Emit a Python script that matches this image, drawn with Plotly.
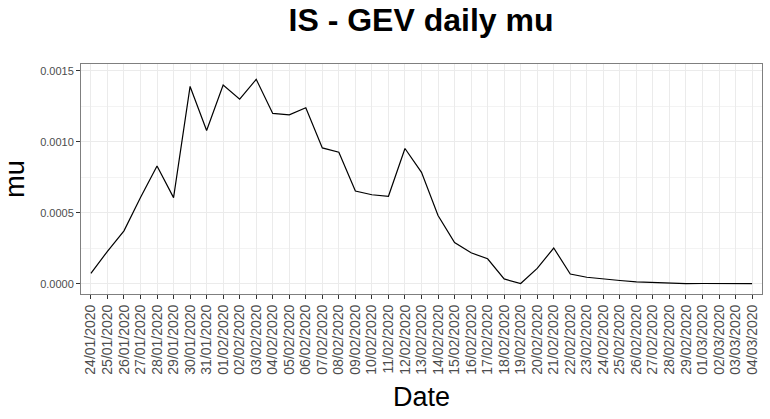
import plotly.graph_objects as go

dates = [
    "24/01/2020", "25/01/2020", "26/01/2020", "27/01/2020", "28/01/2020",
    "29/01/2020", "30/01/2020", "31/01/2020", "01/02/2020", "02/02/2020",
    "03/02/2020", "04/02/2020", "05/02/2020", "06/02/2020", "07/02/2020",
    "08/02/2020", "09/02/2020", "10/02/2020", "11/02/2020", "12/02/2020",
    "13/02/2020", "14/02/2020", "15/02/2020", "16/02/2020", "17/02/2020",
    "18/02/2020", "19/02/2020", "20/02/2020", "21/02/2020", "22/02/2020",
    "23/02/2020", "24/02/2020", "25/02/2020", "26/02/2020", "27/02/2020",
    "28/02/2020", "29/02/2020", "01/03/2020", "02/03/2020", "03/03/2020",
    "04/03/2020",
]

mu = [
    0.000073, 0.000229, 0.000373, 0.000607, 0.000829,
    0.000607, 0.00139, 0.00108, 0.00140, 0.00130,
    0.00144, 0.00120, 0.00119, 0.00124, 0.000957,
    0.000927, 0.000653, 0.000627, 0.000616, 0.000953,
    0.000785, 0.000481, 0.000291, 0.000218, 0.000176,
    0.000034, 0.000002, 0.000108, 0.000252, 0.000069,
    0.000046, 0.000032, 0.000023, 0.000014, 0.000009,
    0.000001, 0.000001, 0.000002, 0.000001, 0.000001,
    0.000001,
]

y_ticks = [0.0, 0.0005, 0.0010, 0.0015]
y_labels = ["0.0000", "0.0005", "0.0010", "0.0015"]

font = "Liberation Sans, Arial, Helvetica, sans-serif"

fig = go.Figure(
    go.Scatter(
        x=dates, y=mu, mode="lines",
        line=dict(color="black", width=1.2),
        showlegend=False,
    )
)

ymax = max(mu)
pad = ymax * 0.05

fig.update_layout(
    width=770, height=419,
    margin=dict(l=81, r=8, t=64, b=125),
    paper_bgcolor="white", plot_bgcolor="white",
    font=dict(family=font, color="black"),
    title=dict(
        text="<b>IS - GEV daily mu</b>",
        font=dict(size=32, color="black"),
        x=421 / 770, xanchor="center",
        y=1 - 20 / 419, yanchor="middle", yref="container",
    ),
)

fig.update_xaxes(
    type="category",
    automargin=False,
    range=[-0.6, len(dates) - 0.4],
    tickmode="array", tickvals=dates, ticktext=dates,
    tickangle=-90,
    tickfont=dict(size=14, color="#4D4D4D"),
    ticks="outside", ticklen=4, tickcolor="#333333",
    showgrid=True, gridcolor="#EBEBEB", gridwidth=1,
    showline=True, linecolor="#7F7F7F", linewidth=1, mirror=True,
    zeroline=False,
    title=dict(text="Date", font=dict(size=27), standoff=13),
)

fig.update_yaxes(
    automargin=False,
    range=[-pad, ymax + pad * 1.5],
    tickvals=y_ticks, ticktext=y_labels,
    tickfont=dict(size=11, color="#4D4D4D"),
    ticks="outside", ticklen=4, tickcolor="#333333",
    showgrid=True, gridcolor="#EBEBEB", gridwidth=1,
    minor=dict(tickvals=[0.00025, 0.00075, 0.00125], showgrid=True,
               gridcolor="#F3F3F3", gridwidth=1, ticks=""),
    showline=True, linecolor="#7F7F7F", linewidth=1, mirror=True,
    zeroline=False,
    title=dict(text="mu", font=dict(size=27), standoff=8),
)

# drop the browser's default body margin so the figure fills the window
fig.write_html(
    "out.html",
    config={"displayModeBar": False},
    post_script="document.body.style.margin = '0';",
)
